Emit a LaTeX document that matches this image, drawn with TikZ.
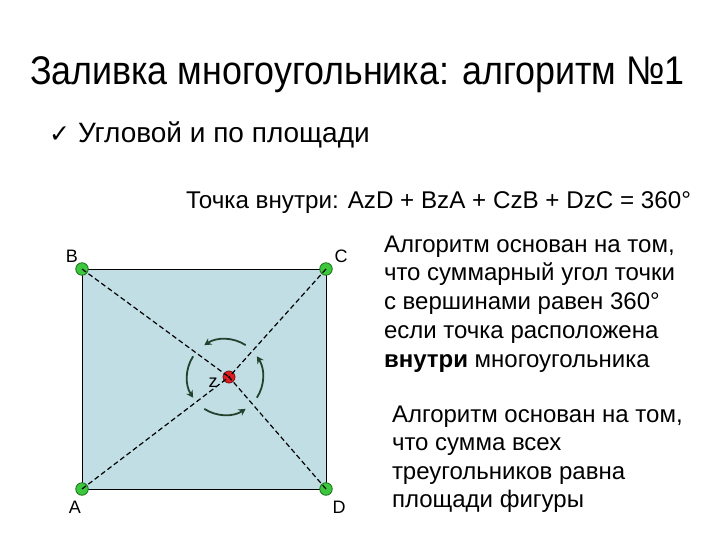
\documentclass[tikz,border=0pt]{standalone}
\usepackage{fontspec}
\setmainfont{Liberation Sans}
\newfontfamily\symfont{DejaVu Sans}
\usepackage{tikz}
\usetikzlibrary{arrows.meta, positioning, calc}

\begin{document}
\begin{tikzpicture}[x=1pt, y=-1pt]
  % Define colors
  \definecolor{squarefill}{RGB}{192,222,228}
  \definecolor{dotgreen}{RGB}{60,200,60}
  \definecolor{dotedge}{RGB}{30,110,30}
  \definecolor{dotred}{RGB}{220,30,30}
  \definecolor{dotrededge}{RGB}{120,20,20}
  \definecolor{spingreen}{RGB}{35,65,45}

  \tikzset{
    txt/.style={anchor=base west, inner sep=0pt, outer sep=0pt, align=left},
    vertex/.style={circle, draw=dotedge, fill=dotgreen, line width=0.8pt, inner sep=0pt, minimum size=12.5pt},
    corner/.style={font=\fontsize{18}{18}\selectfont, inner sep=0pt},
    ray/.style={line width=1.2pt, dash pattern=on 5pt off 3pt},
    spin/.style={spingreen, line width=1.8pt, -{Stealth[length=7pt, width=7.5pt]}}
  }

  % Page frame
  \useasboundingbox (0,0) rectangle (720,540);

  % Title and bullet lines
  \node[txt, font=\fontsize{40}{40}\selectfont] (title) at (30,85)
    {\scalebox{0.896}[1]{Заливка многоугольника: алгоритм №1}};
  \node[txt, font=\fontsize{25}{25}\selectfont\symfont] (tick) at (49,143) {✓};
  \node[txt, font=\fontsize{28}{28}\selectfont] (bullet) at (78,143) {Угловой и по площади};
  \node[txt, font=\fontsize{24.2}{24.2}\selectfont] (rule) at (186,208)
    {Точка внутри: AzD + BzA + CzB + DzC = 360°};

  % Square with its corner points
  \coordinate (a) at (82,489);
  \coordinate (b) at (82,269);
  \coordinate (c) at (326,269);
  \coordinate (d) at (326,489);
  \fill[squarefill] (a) rectangle (c);
  \draw[line width=1pt] (a) rectangle (c);

  \node[vertex] (A) at (a) {};
  \node[vertex] (B) at (b) {};
  \node[vertex] (C) at (c) {};
  \node[vertex] (D) at (d) {};
  \node[circle, draw=dotrededge, fill=dotred, line width=0.8pt, inner sep=0pt, minimum size=12pt] (Z) at (229,377) {};

  \node[corner] (Alabel) at (75,507) {A};
  \node[corner] (Blabel) at (72,256) {B};
  \node[corner] (Clabel) at (341,256) {C};
  \node[corner] (Dlabel) at (339,507) {D};
  \node[corner] (Zlabel) at (213,383) {z};

  % Dashed rays from corners to z
  \foreach \v in {A,B,C,D}
    \draw[ray] (\v.center) -- (Z.center);

  % Turning arrows round z
  \coordinate (spinc) at (225,377);
  \foreach \a in {0,90,180,270}
    \draw[spin] ($(spinc)+(33-\a:38)$) arc[start angle=33-\a, end angle=-\a-33, radius=38];

  % Right hand texts
  \node[txt, font=\fontsize{24}{28.75}\selectfont] (angletext) at (384,367)
    {Алгоритм основан на том,\\что суммарный угол точки\\с вершинами равен 360°\\если точка расположена\\\textbf{внутри} многоугольника};
  \node[txt, font=\fontsize{24}{28.5}\selectfont] (areatext) at (392,507.5)
    {Алгоритм основан на том,\\что сумма всех\\треугольников равна\\площади фигуры};
\end{tikzpicture}
\end{document}
